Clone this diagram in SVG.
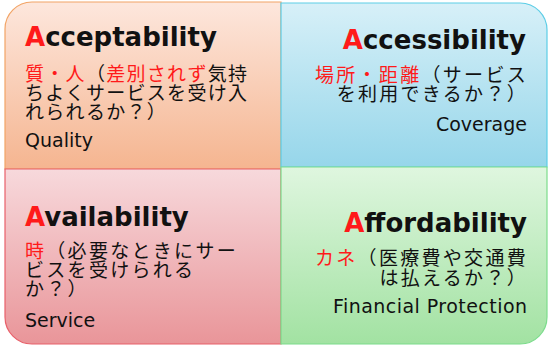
<svg xmlns="http://www.w3.org/2000/svg" width="548" height="347" viewBox="0 0 548 347">
<defs>
<linearGradient id="gTL" x1="0" y1="0" x2="0" y2="1"><stop offset="0" stop-color="#fde7dd"/><stop offset="1" stop-color="#f5b590"/></linearGradient>
<linearGradient id="gTR" x1="0" y1="0" x2="0" y2="1"><stop offset="0" stop-color="#d7f0f8"/><stop offset="1" stop-color="#96d6ea"/></linearGradient>
<linearGradient id="gBL" x1="0" y1="0" x2="0" y2="1"><stop offset="0" stop-color="#f7d9dc"/><stop offset="1" stop-color="#e99599"/></linearGradient>
<linearGradient id="gBR" x1="0" y1="0" x2="0" y2="1"><stop offset="0" stop-color="#dff6df"/><stop offset="1" stop-color="#a2e2a2"/></linearGradient>
</defs>
<style>
.title{font-family:"DejaVu Sans","Liberation Sans",sans-serif;font-weight:bold;font-size:26px;fill:#111}
.en{font-family:"DejaVu Sans","Liberation Sans",sans-serif;font-size:19px;fill:#111}
.jp{font-family:"Noto Sans CJK JP","Noto Sans CJK SC",sans-serif;font-size:19px;fill:#111;letter-spacing:2.3px}
.red{fill:#ff1a1a}
.end{text-anchor:end}
</style>
<g id="acceptability">
<path d="M5,29 A27,27 0 0 1 32,2 H281 V169 H5 Z" fill="url(#gTL)" stroke="#f2a466" stroke-width="1.2"/>
<text class="title" x="25" y="46"><tspan class="red">A</tspan>cceptability</text>
<text class="jp" x="25" y="81" style="letter-spacing:1.3px"><tspan class="red">質・人</tspan>（<tspan class="red">差別されず</tspan>気持</text>
<text class="jp" x="25" y="100" style="letter-spacing:1.3px">ちよくサービスを受け入</text>
<text class="jp" x="25" y="119" style="letter-spacing:1.3px">れられるか？）</text>
<text class="en" x="25" y="147">Quality</text>
</g>
<g id="accessibility">
<path d="M281,3 H520 A27,27 0 0 1 547,30 V167 H281 Z" fill="url(#gTR)" stroke="#5ccde6" stroke-width="1.2"/>
<text class="title end" x="526" y="49"><tspan class="red">A</tspan>ccessibility</text>
<text class="jp end" x="528" y="82"><tspan class="red">場所・距離</tspan>（サービス</text>
<text class="jp end" x="528" y="101">を利用できるか？）</text>
<text class="en end" x="527" y="131">Coverage</text>
</g>
<g id="availability">
<path d="M5,169 H281 V344 H32 A27,27 0 0 1 5,317 Z" fill="url(#gBL)" stroke="#e8606a" stroke-width="1.2"/>
<text class="title" x="25" y="226"><tspan class="red">A</tspan>vailability</text>
<text class="jp" x="25" y="258"><tspan class="red">時</tspan>（必要なときにサー</text>
<text class="jp" x="25" y="277">ビスを受けられる</text>
<text class="jp" x="25" y="296">か？）</text>
<text class="en" x="25" y="327">Service</text>
</g>
<g id="affordability">
<path d="M281,167 H547 V317 A27,27 0 0 1 520,344 H281 Z" fill="url(#gBR)" stroke="#7cdc8c" stroke-width="1.2"/>
<text class="title end" x="527" y="232"><tspan class="red">A</tspan>ffordability</text>
<text class="jp end" x="528" y="265"><tspan class="red">カネ</tspan>（医療費や交通費</text>
<text class="jp end" x="528" y="285">は払えるか？）</text>
<text class="en end" x="527" y="313" textLength="194">Financial Protection</text>
</g>
<g id="connectors"/>
</svg>
